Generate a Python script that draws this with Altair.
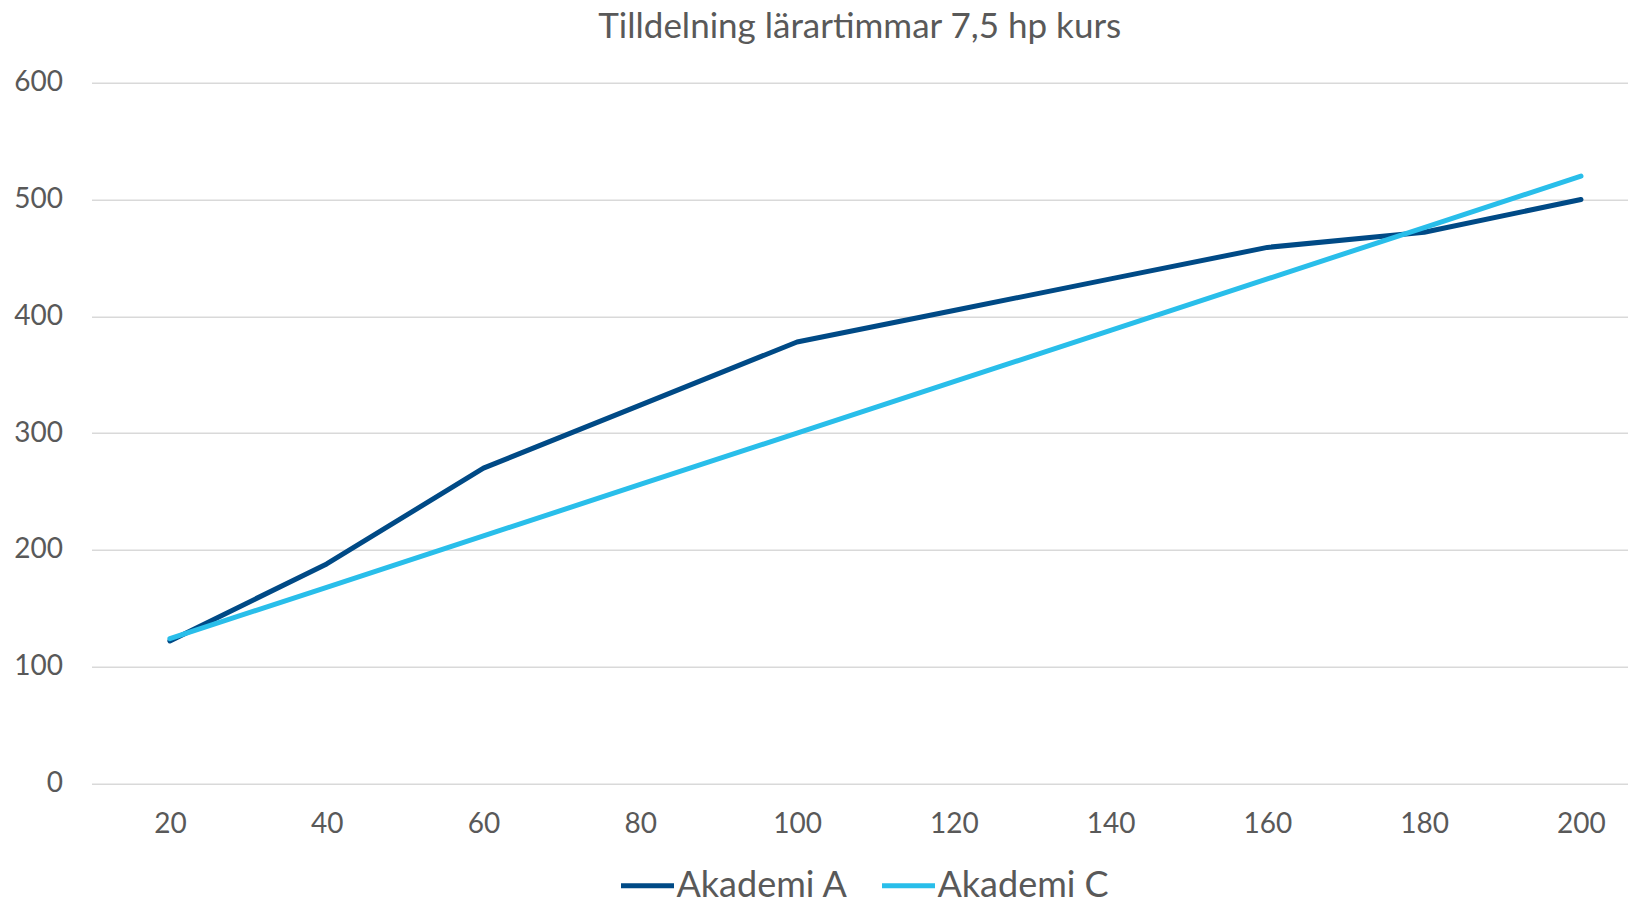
import altair as alt
import pandas as pd

x_vals = [20, 40, 60, 80, 100, 120, 140, 160, 180, 200]
akademi_a = [122, 188, 270, 324, 378, 405, 432, 459, 472, 500]
akademi_c = [124, 168, 212, 256, 300, 344, 388, 432, 476, 520]
series_names = ["Akademi A", "Akademi C"]
series_colors = ["#004A86", "#29BEEA"]
y_ticks = [0, 100, 200, 300, 400, 500, 600]
title_text = "Tilldelning lärartimmar 7,5 hp kurs"

rows = []
for name, vals in zip(series_names, [akademi_a, akademi_c]):
    for x, v in zip(x_vals, vals):
        rows.append({"kurs": x, "timmar": v, "serie": name})
df = pd.DataFrame(rows)

FONT = "Lato"
TXT = "#595959"

chart = alt.Chart(df).mark_line(strokeWidth=5, strokeCap="round", strokeJoin="round").encode(
    x=alt.X("kurs:Q",
            scale=alt.Scale(domain=[10, 206], nice=False, zero=False),
            axis=alt.Axis(values=x_vals, title=None, grid=False, domain=False, ticks=False, tickSize=0,
                          labelPadding=41, labelBaseline="middle", labelFontSize=28,
                          labelColor=TXT, labelFont=FONT, labelFlush=False)),
    y=alt.Y("timmar:Q",
            scale=alt.Scale(domain=[0, 600], nice=False),
            axis=alt.Axis(values=y_ticks, title=None, domain=False, ticks=False, tickSize=0,
                          labelPadding=29, labelFontSize=28, labelColor=TXT, labelFont=FONT,
                          gridColor="#D9D9D9", gridWidth=1.5)),
    color=alt.Color("serie:N",
                    scale=alt.Scale(domain=series_names, range=series_colors),
                    legend=alt.Legend(title=None, orient="none", direction="horizontal",
                                      legendX=527, legendY=774,
                                      symbolType="stroke", symbolSize=2809, symbolStrokeWidth=5,
                                      labelFontSize=36, labelFont=FONT, labelColor=TXT,
                                      labelLimit=0, labelOffset=0, columnPadding=23, padding=0)),
).properties(
    width=1536.5,
    height=700.8,
    title=alt.TitleParams(title_text, anchor="middle", fontSize=35, font=FONT, color=TXT,
                          fontWeight="normal", offset=0, dy=4, baseline="alphabetic"),
    padding={"left": 83.5, "top": 74.7, "right": 0, "bottom": 114},
    autosize=alt.AutoSizeParams(type="none"),
).configure_view(stroke=None)

chart.save("out.html", embed_options={"renderer": "svg", "actions": False})
